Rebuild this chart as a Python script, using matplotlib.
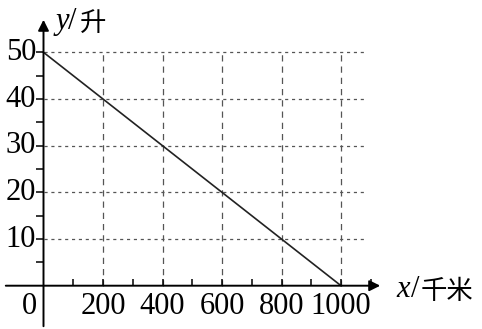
import matplotlib

matplotlib.use("Agg")
import matplotlib.pyplot as plt  # noqa: E402

# data
line_x = [0, 1000]
line_y = [50, 0]
x_labels = [0, 200, 400, 600, 800, 1000]
y_labels = [10, 20, 30, 40, 50]
x_ticks = [100, 200, 300, 400, 500, 600, 700, 800, 900, 1000, 1100]
y_ticks = [5, 10, 15, 20, 25, 30, 35, 40, 45, 50]
grid_x = [200, 400, 600, 800, 1000]
grid_y = [10, 20, 30, 40, 50]

W, H = 482, 329
X0, XS = 43.5, 0.2975      # pixel of x=0, pixels per unit
Y0, YS = 285.7, 4.667      # pixel of y=0, pixels per unit

fig = plt.figure(figsize=(W / 100, H / 100), dpi=100)
ax = fig.add_axes([0, 0, 1, 1])
ax.set_xlim(-X0 / XS, (W - X0) / XS)
ax.set_ylim((Y0 - H) / YS, Y0 / YS)
ax.axis("off")


def px(xp, yp):
    """pixel position (from top-left) -> axes fraction"""
    return xp / W, 1 - yp / H


serif = "Liberation Serif"
cjk = "Noto Sans CJK SC"
grid_col = "#555555"

# grid
for gx in grid_x:
    ax.plot([gx, gx], [0, max(grid_y)], color=grid_col, lw=0.9,
            linestyle=(0, (5, 4)), zorder=1)
for gy in grid_y:
    ax.plot([0, 1080], [gy, gy], color=grid_col, lw=0.9,
            linestyle=(0, (2.5, 3)), zorder=1)

# axes with arrows
ax.annotate("", xy=(0, 61.22 - 17 / YS), xytext=(0, (Y0 - H) / YS),
            arrowprops=dict(arrowstyle="-|>", color="black", lw=1.4,
                            mutation_scale=16), zorder=3)
ax.annotate("", xy=((383 - X0) / XS, 0), xytext=((3 - X0) / XS, 0),
            arrowprops=dict(arrowstyle="-|>", color="black", lw=1.4,
                            mutation_scale=16), zorder=3)

# ticks: x inward (up), y outward (left)
ax.vlines(x_ticks, 0, 7 / YS, color="black", lw=1.1, zorder=3)
ax.hlines(y_ticks, -8 / XS, 0, color="black", lw=1.1, zorder=3)

# the function line
ax.plot(line_x, line_y, color="#222222", lw=1.2, zorder=2)

# tick labels
for v in x_labels:
    xp = X0 + v * XS if v else 29
    ax.text(*px(xp, 307), str(v), transform=ax.transAxes, ha="center",
            va="center", fontsize=22, family=serif)
for v in y_labels:
    ax.text(*px(36, Y0 - v * YS), str(v), transform=ax.transAxes, ha="right",
            va="center", fontsize=22, family=serif)

# axis titles
ax.text(*px(56, 29), "y", transform=ax.transAxes, ha="left",
        va="baseline", fontsize=22, family=serif, style="italic")
ax.text(*px(68, 29), "/", transform=ax.transAxes, ha="left",
        va="baseline", fontsize=22, family=serif)
ax.text(*px(80, 31), "升", transform=ax.transAxes, ha="left",
        va="baseline", fontsize=19, family=cjk)
ax.text(*px(396, 297), "x", transform=ax.transAxes, ha="left",
        va="baseline", fontsize=22, family=serif, style="italic")
ax.text(*px(411, 297), "/", transform=ax.transAxes, ha="left",
        va="baseline", fontsize=22, family=serif)
ax.text(*px(421, 299), "千米", transform=ax.transAxes, ha="left",
        va="baseline", fontsize=19, family=cjk)

fig.savefig("out.png", dpi=100)
plt.close(fig)
